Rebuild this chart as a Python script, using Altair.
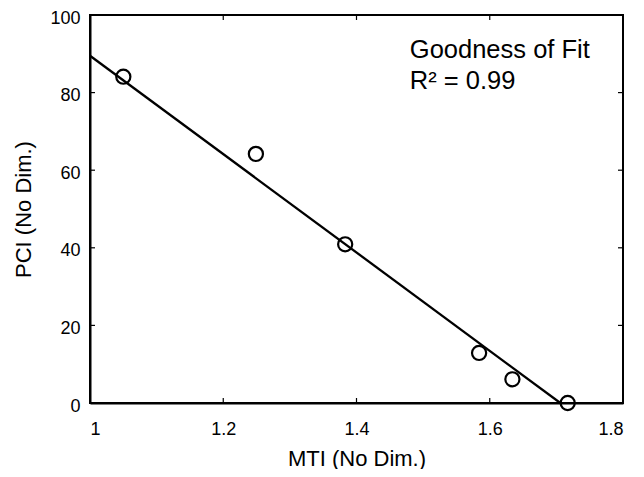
import altair as alt
import pandas as pd

# ---- data ----
mti = [1.05, 1.249, 1.383, 1.584, 1.634, 1.717]
pci = [84.1, 64.2, 40.9, 12.9, 6.1, 0.0]
fit_mti = [1.0, 1.706]
fit_pci = [89.5, 0.0]
x_ticks = [1.0, 1.2, 1.4, 1.6, 1.8]
y_ticks = [0, 20, 40, 60, 80, 100]
note_lines = ["Goodness of Fit", "R² = 0.99"]
note_x = [1.48, 1.48]
note_y = [89.0, 81.0]

W, H = 533, 388
FONT = "Liberation Sans"
TICK = 5

pts = pd.DataFrame({"mti": mti, "pci": pci})
fit = pd.DataFrame({"mti": fit_mti, "pci": fit_pci})
xt = pd.DataFrame({"v": x_ticks})
yt = pd.DataFrame({"v": y_ticks})
notes = pd.DataFrame({"t": note_lines, "x": note_x, "y": note_y})

xs = alt.Scale(domain=[1, 1.8], nice=False, zero=False)
ys = alt.Scale(domain=[0, 100], nice=False, zero=False)

x_axis = alt.Axis(values=x_ticks, format="~g", ticks=False, grid=False,
                  domainColor="black", domainWidth=2, labelPadding=17,
                  labelFontSize=18, labelFont=FONT, labelColor="black",
                  titleFontSize=22, titleFont=FONT, titleColor="black",
                  titleFontWeight="normal", titlePadding=10)
y_axis = alt.Axis(values=y_ticks, format="d", ticks=False, grid=False,
                  domainColor="black", domainWidth=2, labelPadding=10,
                  labelOffset=3,
                  labelFontSize=18, labelFont=FONT, labelColor="black",
                  titleFontSize=22, titleFont=FONT, titleColor="black",
                  titleFontWeight="normal", titlePadding=14)

points = alt.Chart(pts).mark_point(
    shape="circle", filled=False, color="black", size=200, strokeWidth=2.2, opacity=1
).encode(
    x=alt.X("mti:Q", scale=xs, axis=x_axis, title="MTI (No Dim.)"),
    y=alt.Y("pci:Q", scale=ys, axis=y_axis, title="PCI (No Dim.)"),
)

line = alt.Chart(fit).mark_line(color="black", strokeWidth=2.3).encode(
    x=alt.X("mti:Q", scale=xs),
    y=alt.Y("pci:Q", scale=ys),
)

tick_style = dict(color="black", strokeWidth=1.2)
bx = alt.Chart(xt).mark_rule(**tick_style).encode(
    x=alt.X("v:Q", scale=xs), y=alt.value(H), y2=alt.value(H - TICK))
tx = alt.Chart(xt).mark_rule(**tick_style).encode(
    x=alt.X("v:Q", scale=xs), y=alt.value(0), y2=alt.value(TICK))
ly = alt.Chart(yt).mark_rule(**tick_style).encode(
    y=alt.Y("v:Q", scale=ys), x=alt.value(0), x2=alt.value(TICK))
ry = alt.Chart(yt).mark_rule(**tick_style).encode(
    y=alt.Y("v:Q", scale=ys), x=alt.value(W), x2=alt.value(W - TICK))

text = alt.Chart(notes).mark_text(
    align="left", baseline="alphabetic", fontSize=25.5, font=FONT, color="black"
).encode(
    x=alt.X("x:Q", scale=xs),
    y=alt.Y("y:Q", scale=ys),
    text="t:N",
)

chart = alt.layer(bx, tx, ly, ry, line, points, text).properties(
    width=W, height=H,
    autosize=alt.AutoSizeParams(type="none"),
    padding={"left": 82, "top": 7, "right": 13, "bottom": 66},
    background="white",
).configure_view(stroke="black", strokeWidth=2)

chart.save("out.html", embed_options={"renderer": "svg", "actions": False})
